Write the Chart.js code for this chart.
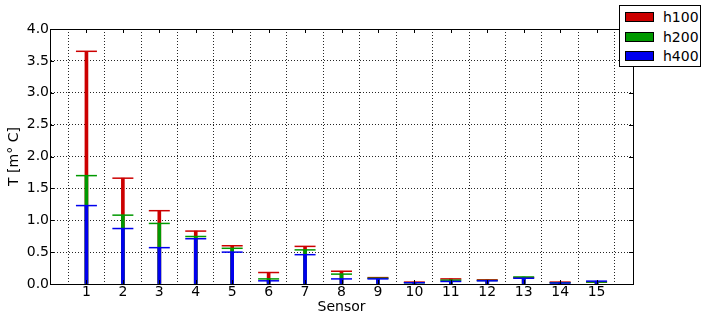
<!DOCTYPE html>
<html>
<head>
<meta charset="utf-8">
<script src="https://cdn.jsdelivr.net/npm/chart.js@4.4.1/dist/chart.umd.min.js"></script>
<style>
  body { margin: 0; background: #fff; }
  #wrap { position: relative; width: 702px; height: 321px; }
  #legend {
    position: absolute; left: 619px; top: 5px; width: 80px; height: 60px;
    border: 1px solid #000; background: #fff;
    font-family: "DejaVu Sans", sans-serif; font-size: 14px; color: #000;
  }
  #legend .row { position: absolute; left: 0; height: 20px; line-height: 20px; }
  #legend .patch {
    position: absolute; left: 5px; top: 5px; width: 27px; height: 8px;
    border: 1px solid #000;
  }
  #legend .lbl { position: absolute; left: 43px; top: 0; }
</style>
</head>
<body>
<div id="wrap">
  <canvas id="chart" width="702" height="321"></canvas>
  <div id="legend"></div>
</div>
<script>
const sensors = [1, 2, 3, 4, 5, 6, 7, 8, 9, 10, 11, 12, 13, 14, 15];
const h100 = [3.65, 1.66, 1.15, 0.83, 0.60, 0.18, 0.59, 0.20, 0.10, 0.03, 0.08, 0.065, 0.10, 0.03, 0.03];
const h200 = [1.70, 1.08, 0.95, 0.745, 0.56, 0.08, 0.535, 0.155, 0.09, 0.02, 0.06, 0.055, 0.11, 0.02, 0.03];
const h400 = [1.23, 0.87, 0.57, 0.71, 0.50, 0.05, 0.46, 0.08, 0.08, 0.02, 0.04, 0.05, 0.09, 0.015, 0.045];

const seriesNames = ["h100", "h200", "h400"];
const seriesColors = ["#cc0000", "#009900", "#0000ee"];
const seriesValues = [h100, h200, h400];

Chart.defaults.font.family = "'DejaVu Sans', sans-serif";
Chart.defaults.font.size = 14;
Chart.defaults.color = "#000";

// each series: a thin bar from zero plus a horizontal cap at the value
const datasets = [];
seriesValues.forEach((vals, i) => {
  const pts = sensors.map((s, k) => ({ x: s, y: vals[k] }));
  const base = (3 - i) * 2;
  datasets.push({
    type: "bar",
    label: seriesNames[i],
    data: pts,
    backgroundColor: seriesColors[i],
    borderWidth: 0,
    barThickness: 3,
    grouped: false,
    order: base,
  });
  datasets.push({
    type: "scatter",
    label: seriesNames[i] + " cap",
    data: pts,
    pointStyle: "line",
    pointRadius: 10.5,
    pointBorderWidth: 1.5,
    pointBorderColor: seriesColors[i],
    borderColor: seriesColors[i],
    order: base - 1,
  });
});

// frame around the plot and inward tick marks on every side
const frameTicks = {
  id: "frameTicks",
  afterDraw(chart) {
    const { ctx, chartArea: a, scales } = chart;
    ctx.save();
    ctx.strokeStyle = "#000";
    ctx.lineWidth = 1;
    ctx.strokeRect(a.left + 0.5, a.top + 0.5, a.right - a.left, a.bottom - a.top);
    ctx.beginPath();
    scales.y.ticks.forEach((t) => {
      const y = Math.round(scales.y.getPixelForValue(t.value)) + 0.5;
      ctx.moveTo(a.left, y); ctx.lineTo(a.left + 4, y);
      ctx.moveTo(a.right, y); ctx.lineTo(a.right - 4, y);
    });
    sensors.forEach((s) => {
      const x = Math.round(scales.x.getPixelForValue(s)) + 0.5;
      ctx.moveTo(x, a.bottom); ctx.lineTo(x, a.bottom - 4);
      ctx.moveTo(x, a.top); ctx.lineTo(x, a.top + 4);
    });
    ctx.stroke();
    ctx.restore();
  },
};

new Chart(document.getElementById("chart"), {
  type: "bar",
  data: { datasets: datasets },
  options: {
    responsive: false,
    animation: false,
    events: [],
    layout: { padding: { left: 0, top: 29, right: 69, bottom: 0 } },
    plugins: { legend: { display: false }, tooltip: { enabled: false } },
    scales: {
      x: {
        type: "linear",
        min: 0,
        max: 16,
        offset: false,
        afterFit: (scale) => { scale.height = 37; },
        ticks: {
          stepSize: 1,
          padding: 0,
          maxRotation: 0,
          autoSkip: false,
          callback: (v) => (v >= 1 && v <= 15 ? String(v) : ""),
        },
        grid: {
          color: "rgba(0,0,0,0.85)",
          lineWidth: 1,
          drawTicks: false,
        },
        border: { display: true, color: "#000", dash: [1, 2] },
        title: { display: true, text: "Sensor", padding: { top: 0, bottom: 5 } },
      },
      y: {
        min: 0,
        max: 4,
        afterFit: (scale) => { scale.width = 50; },
        ticks: {
          stepSize: 0.5,
          padding: 1,
          callback: (v) => v.toFixed(1),
        },
        grid: {
          color: "rgba(0,0,0,0.85)",
          lineWidth: 1,
          drawTicks: false,
        },
        border: { display: true, color: "#000", dash: [1, 2] },
        title: { display: true, text: "T [m\u00b0 C]", padding: { top: 6, bottom: 0 } },
      },
    },
  },
  plugins: [frameTicks],
});

// legend box with colour patches
const legend = document.getElementById("legend");
seriesNames.forEach((name, i) => {
  const row = document.createElement("div");
  row.className = "row";
  row.style.top = (1 + i * 19.5) + "px";
  row.innerHTML = '<span class="patch" style="background:' + seriesColors[i] + '"></span>' +
    '<span class="lbl">' + name + "</span>";
  legend.appendChild(row);
});
</script>
</body>
</html>
